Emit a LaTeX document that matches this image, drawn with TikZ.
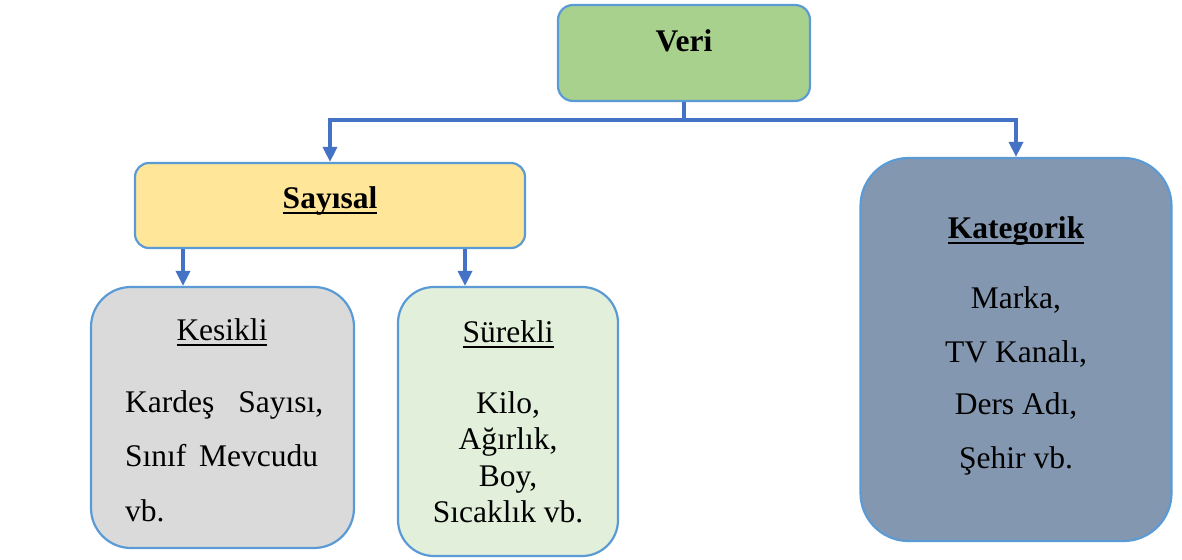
\documentclass[tikz,border=0pt]{standalone}
\usepackage{fontspec}
\setmainfont{Liberation Serif}
\usetikzlibrary{arrows.meta}
\definecolor{edgeblue}{HTML}{5B9BD5}
\definecolor{linkblue}{HTML}{4472C4}
\definecolor{verifill}{HTML}{A9D18E}
\definecolor{sayfill}{HTML}{FFE699}
\definecolor{kesfill}{HTML}{DADADA}
\definecolor{surfill}{HTML}{E2EFDA}
\definecolor{katfill}{HTML}{8497B0}
\newcommand\ulin[1]{\setbox0\hbox{#1}\rlap{\rule[-0.2em]{\wd0}{0.08em}}\box0}
\tikzset{
  box/.style={draw=edgeblue, line width=2.2pt, inner sep=0pt},
  txt/.style={anchor=base, inner sep=0pt, font=\fontsize{31.5}{36}\selectfont},
  ltxt/.style={anchor=base west, inner sep=0pt, font=\fontsize{31.5}{36}\selectfont},
  link/.style={draw=linkblue, line width=3.5pt},
  arrowlink/.style={link, -{Triangle[width=14pt,length=15pt]}}
}
\begin{document}
\begin{tikzpicture}[x=1pt,y=-1pt]
\useasboundingbox (0,0) rectangle (1182,559);
% boxes
\node[box, fill=verifill, rounded corners=15pt, minimum width=252pt, minimum height=96pt] (veri) at (684,53) {};
\node[box, fill=sayfill, rounded corners=14pt, minimum width=390pt, minimum height=85pt] (sayisal) at (330,205.5) {};
\node[box, fill=kesfill, rounded corners=40pt, minimum width=263pt, minimum height=261pt] (kesikli) at (222.5,417.5) {};
\node[box, fill=surfill, rounded corners=36pt, minimum width=220pt, minimum height=269pt] (surekli) at (508,421.5) {};
\node[box, fill=katfill, rounded corners=48pt, minimum width=311pt, minimum height=383pt] (kategorik) at (1016,349.5) {};
% texts
\node[txt] (tveri) at (684,52) {\textbf{Veri}};
\node[txt] (tsay) at (330,208) {\textbf{\ulin{Sayısal}}};
\node[txt] (tkes) at (222,340) {\ulin{Kesikli}};
\node[ltxt] (k1) at (125,412) {\makebox[198pt][s]{Kardeş Sayısı,}};
\node[ltxt] (k2) at (125,466) {\makebox[193pt][s]{Sınıf Mevcudu}};
\node[ltxt] (k3) at (125,521) {vb.};
\node[txt] (tsur) at (508,342) {\ulin{Sürekli}};
\node[txt] (s1) at (508,413) {Kilo,};
\node[txt] (s2) at (508,449) {Ağırlık,};
\node[txt] (s3) at (508,486) {Boy,};
\node[txt] (s4) at (508,522) {Sıcaklık vb.};
\node[txt] (tkat) at (1016,238) {\textbf{\ulin{Kategorik}}};
\node[txt] (c1) at (1016,308) {Marka,};
\node[txt] (c2) at (1016,362) {TV Kanalı,};
\node[txt] (c3) at (1016,414) {Ders Adı,};
\node[txt] (c4) at (1016,468) {Şehir vb.};
% connectors
\coordinate (junction) at (684,120);
\coordinate (kx) at (183,0);
\coordinate (sx) at (465,0);
\draw[link] (veri.south) -- (junction);
\draw[arrowlink] (junction) -| (sayisal.north);
\draw[arrowlink] (junction) -| (kategorik.north);
\draw[arrowlink] (sayisal.south -| kx) -- (kesikli.north -| kx);
\draw[arrowlink] (sayisal.south -| sx) -- (surekli.north -| sx);
\end{tikzpicture}
\end{document}
